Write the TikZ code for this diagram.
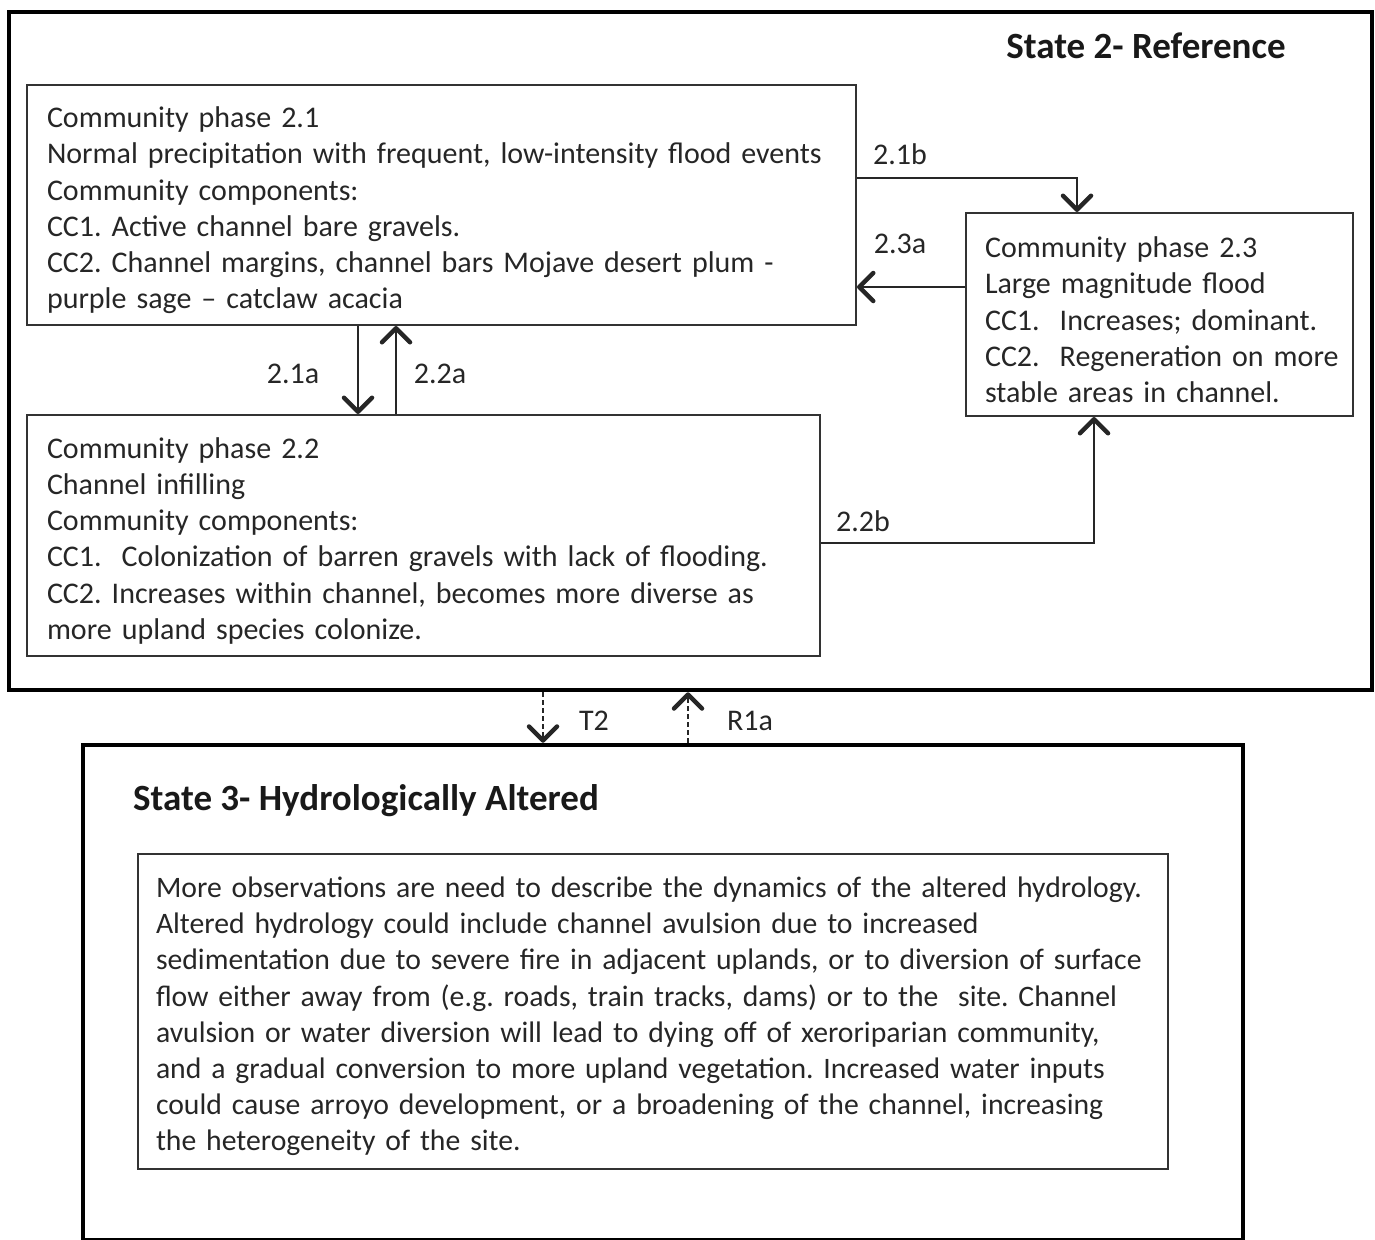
\documentclass[tikz,border=0pt]{standalone}
\usepackage{fontspec}
\setmainfont{Carlito}
\usetikzlibrary{arrows.meta}
\newcommand\firstgap{\rule{0pt}{31.5pt}}
\begin{document}
\begin{tikzpicture}[x=1pt,y=-1pt,
  txt/.style={font=\fontsize{30}{36.2}\selectfont\frenchspacing, text=black!85},
  ttl/.style={font=\fontsize{37}{44}\selectfont\bfseries, text=black!90},
  phasebox/.style={txt, draw=black!80, line width=2pt, inner xsep=20pt, inner ysep=0pt, align=left},
  statebox/.style={draw=black, line width=4.5pt, inner sep=0pt},
  lbl/.style={txt, inner sep=0pt},
  arr/.style={draw=black!85, line width=2pt, -{Straight Barb[length=14pt,width=28pt,line width=4.5pt,round]}},
  darr/.style={arr, dashed, dash pattern=on 5pt off 3pt}
]
\useasboundingbox (0,0) rectangle (1375,1239);
% outer states
\node[statebox, minimum width=1363pt, minimum height=678pt] (s2) at (690.5,351) {};
\node[statebox, minimum width=1160pt, minimum height=495.5pt] (s3) at (663,992.75) {};
\node[ttl, anchor=center] (t2) at (1146,46) {State 2- Reference};
\node[ttl, anchor=west, inner sep=0pt] (t3) at (133,801) {State 3- Hydrologically Altered};
% phases
\node[phasebox, text width=789pt, minimum height=240pt] (p21) at (441.5,205) {%
\firstgap Community phase 2.1\\
Normal precipitation with frequent, low-intensity flood events\\
Community components:\\
CC1. Active channel bare gravels.\\
CC2. Channel margins, channel bars Mojave desert plum -\\
purple sage -- catclaw acacia};
\node[phasebox, text width=753pt, minimum height=241pt] (p22) at (423.5,535.5) {%
\firstgap Community phase 2.2\\
Channel infilling\\
Community components:\\
CC1.~ Colonization of barren gravels with lack of flooding.\\
CC2. Increases within channel, becomes more diverse as\\
more upland species colonize.};
\node[phasebox, inner xsep=19pt, text width=349pt, minimum height=203pt] (p23) at (1159.5,314.5) {%
\firstgap Community phase 2.3\\
Large magnitude flood\\
\mbox{CC1.~ Increases; dominant.}\\
\mbox{CC2.~ Regeneration on more}\\
stable areas in channel.};
\node[phasebox, font=\fontsize{29.7}{36.2}\selectfont\frenchspacing, inner xsep=18pt, text width=994pt, minimum height=315pt] (p3) at (653,1011) {%
\firstgap More observations are need to describe the dynamics of the altered hydrology.\\
Altered hydrology could include channel avulsion due to increased\\
sedimentation due to severe fire in adjacent uplands, or to diversion of surface\\
flow either away from (e.g. roads, train tracks, dams) or to the~ site. Channel\\
avulsion or water diversion will lead to dying off of xeroriparian community,\\
and a gradual conversion to more upland vegetation. Increased water inputs\\
could cause arroyo development, or a broadening of the channel, increasing\\
the heterogeneity of the site.};
% connectors
\draw[arr] (p21.east |- 0,178) -| ([xshift=-82.5pt]p23.north);
\draw[arr] (p23.west |- 0,287) -- (p21.east |- 0,287);
\draw[arr] (p21.south -| 358,0) -- (p22.north -| 358,0);
\draw[arr] (p22.north -| 396,0) -- (p21.south -| 396,0);
\draw[arr] (p22.east |- 0,543) -| ([xshift=-65.5pt]p23.south);
\draw[darr] (s2.south -| 543,0) -- (s3.north -| 543,0);
\draw[darr] (s3.north -| 688,0) -- (s2.south -| 688,0);
% labels
\node[lbl] (l21b) at (900,154) {2.1b};
\node[lbl] (l23a) at (900,244) {2.3a};
\node[lbl] (l21a) at (293,374) {2.1a};
\node[lbl] (l22a) at (440,374) {2.2a};
\node[lbl] (l22b) at (863,521) {2.2b};
\node[lbl] (lt2) at (594,721) {T2};
\node[lbl] (lr1a) at (750,721) {R1a};
\end{tikzpicture}
\end{document}
